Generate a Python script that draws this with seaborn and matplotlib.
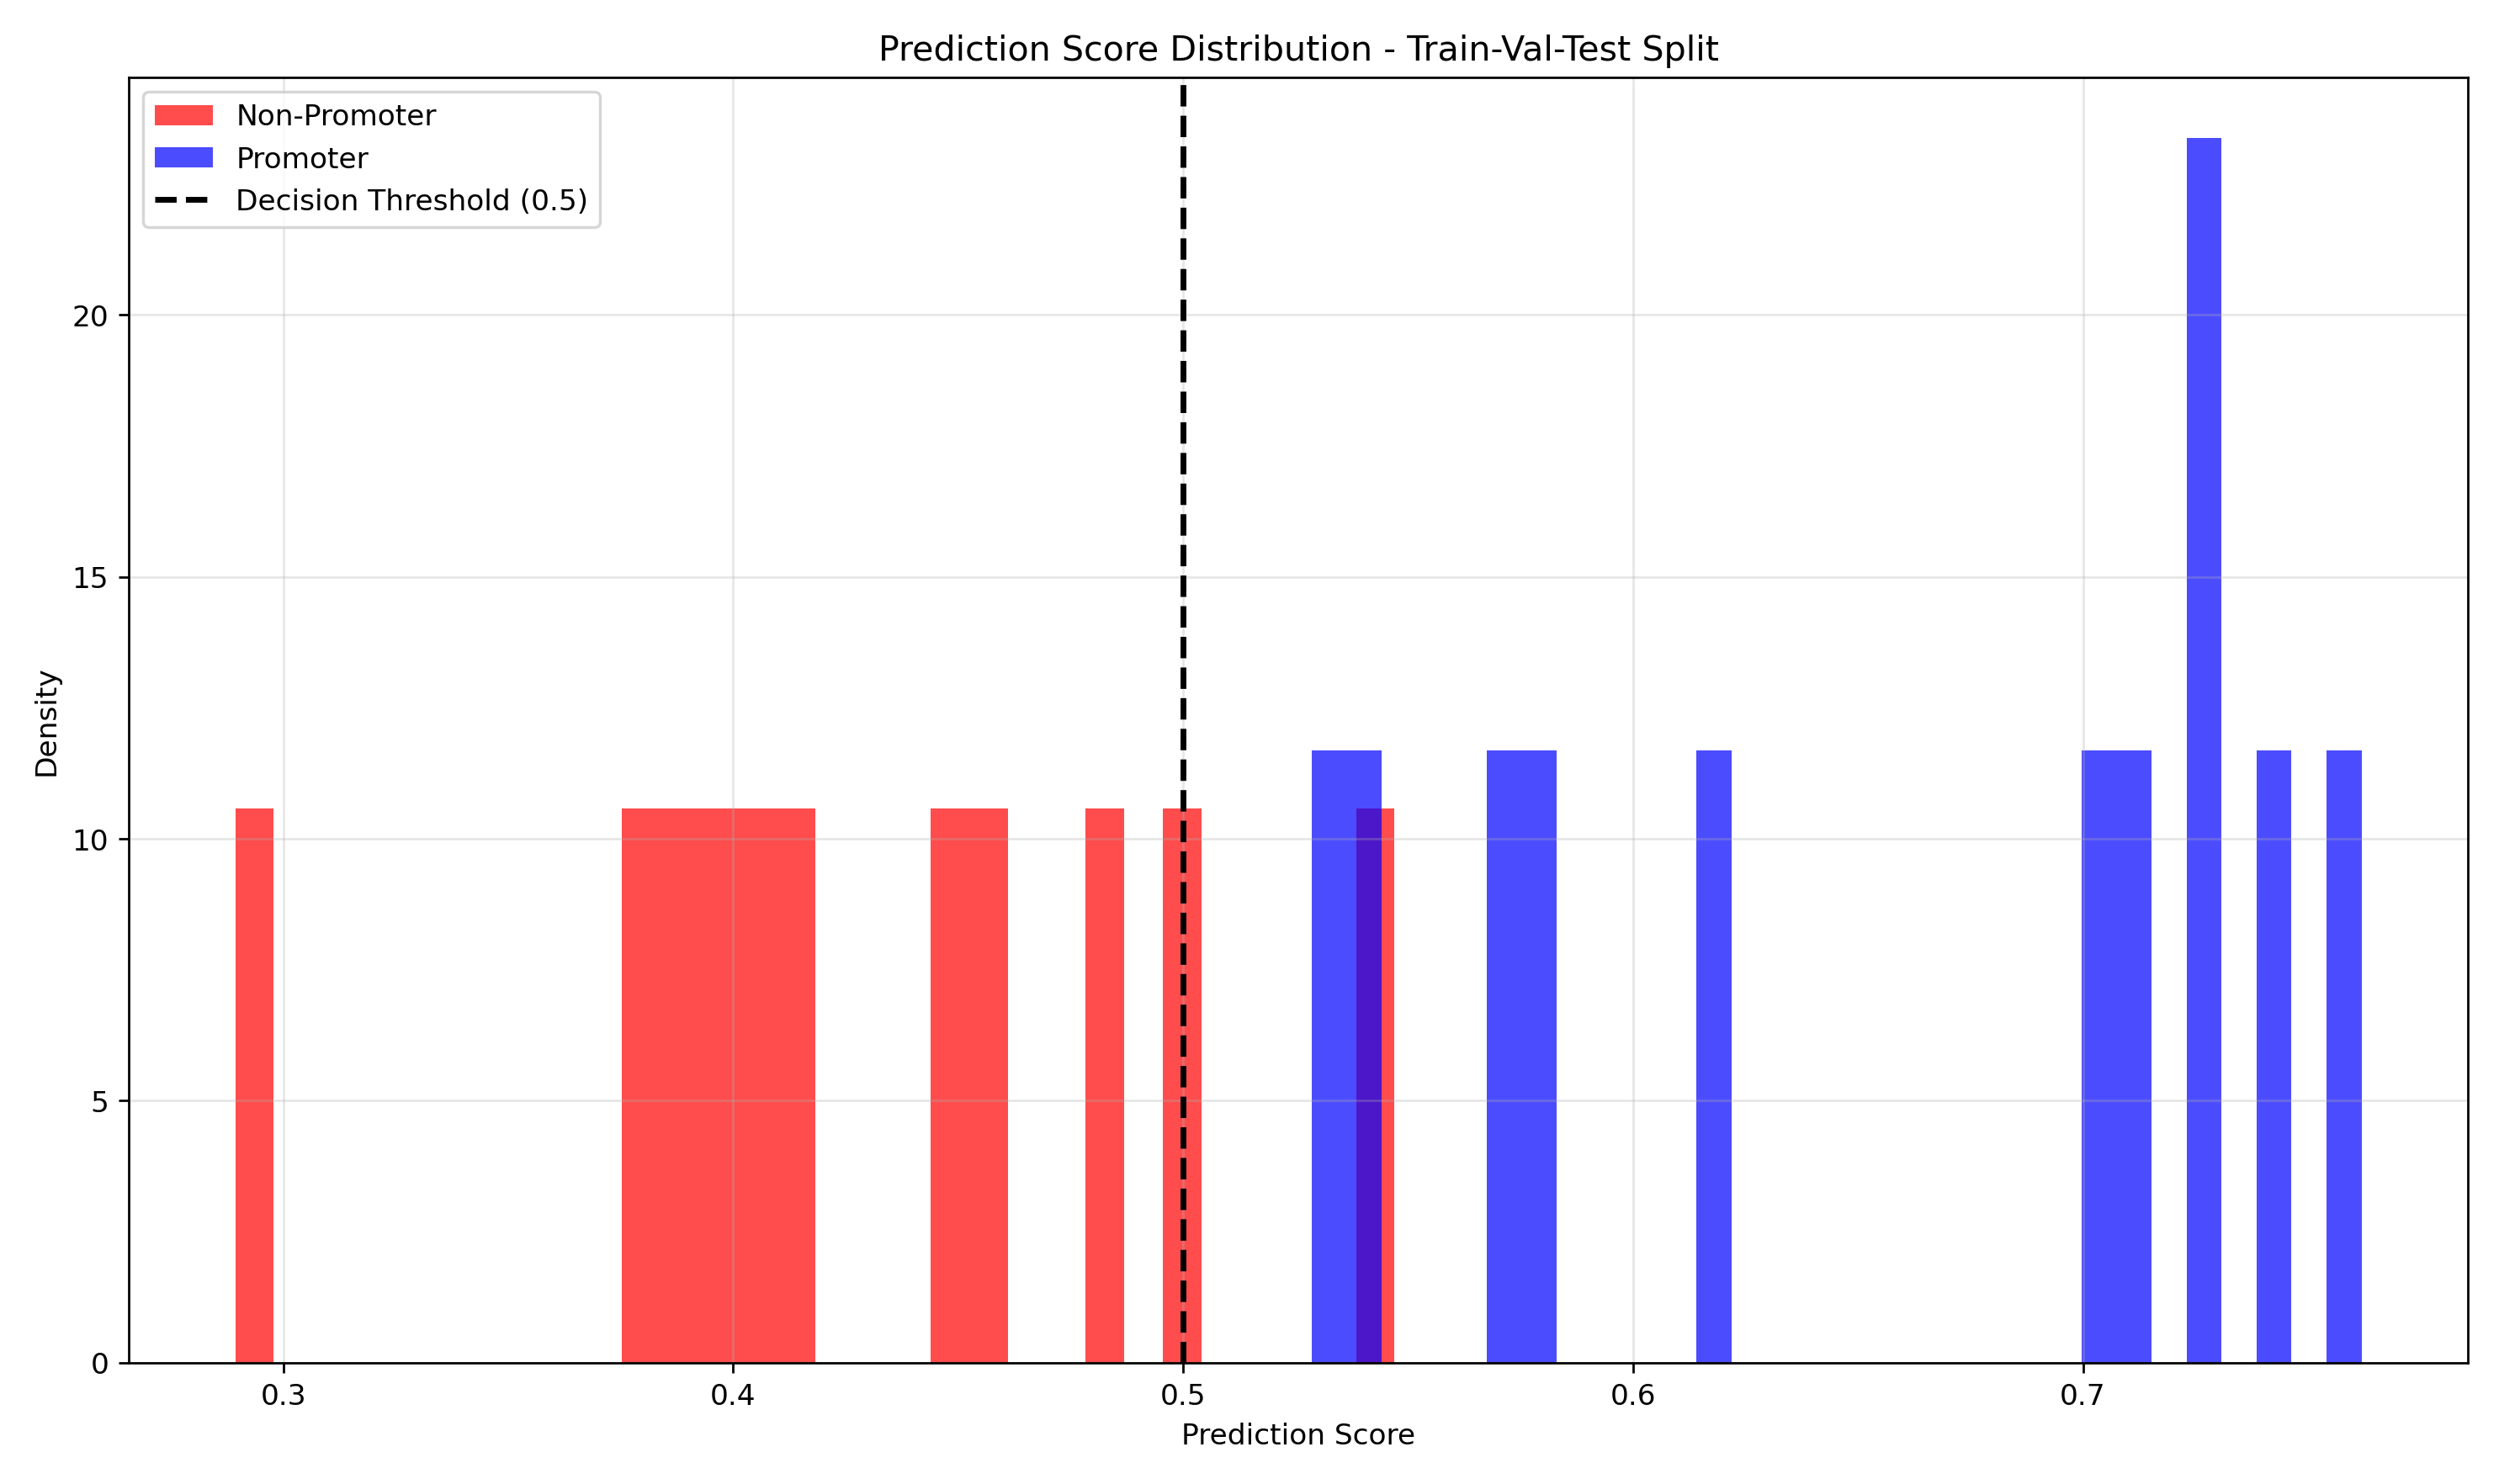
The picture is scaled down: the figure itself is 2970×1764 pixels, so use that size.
import numpy as np
import pandas as pd
import matplotlib
matplotlib.use("Agg")
import matplotlib.pyplot as plt
import seaborn as sns

# prediction scores (30 bins per class)
non_promoter_scores = [0.2893, 0.3795, 0.3881, 0.3967, 0.4053, 0.4139,
                       0.4482, 0.4568, 0.4826, 0.4997, 0.5470]
promoter_scores = [0.5285, 0.5402, 0.5713, 0.5791, 0.6180, 0.7035,
                   0.7113, 0.7269, 0.7269, 0.7424, 0.7619]
THRESHOLD = 0.5

fig, ax = plt.subplots(figsize=(12, 7.13))
sns.histplot(x=non_promoter_scores, bins=30, stat="density", color="red", alpha=0.7,
             edgecolor=None, linewidth=0, label="Non-Promoter", ax=ax)
sns.histplot(x=promoter_scores, bins=30, stat="density", color="blue", alpha=0.7,
             edgecolor=None, linewidth=0, label="Promoter", ax=ax)
ax.axvline(THRESHOLD, color="black", linestyle="--", linewidth=2,
           label=f"Decision Threshold ({THRESHOLD})")

ax.set_xlabel("Prediction Score")
ax.set_ylabel("Density")
ax.set_title("Prediction Score Distribution - Train-Val-Test Split")
ax.grid(True, alpha=0.3)
handles, labels = ax.get_legend_handles_labels()
order = [labels.index("Non-Promoter"), labels.index("Promoter"),
         labels.index(f"Decision Threshold ({THRESHOLD})")]
ax.legend([handles[i] for i in order], [labels[i] for i in order], loc="upper left")
plt.tight_layout()
plt.savefig("out.png", dpi=247.5)
plt.close()
